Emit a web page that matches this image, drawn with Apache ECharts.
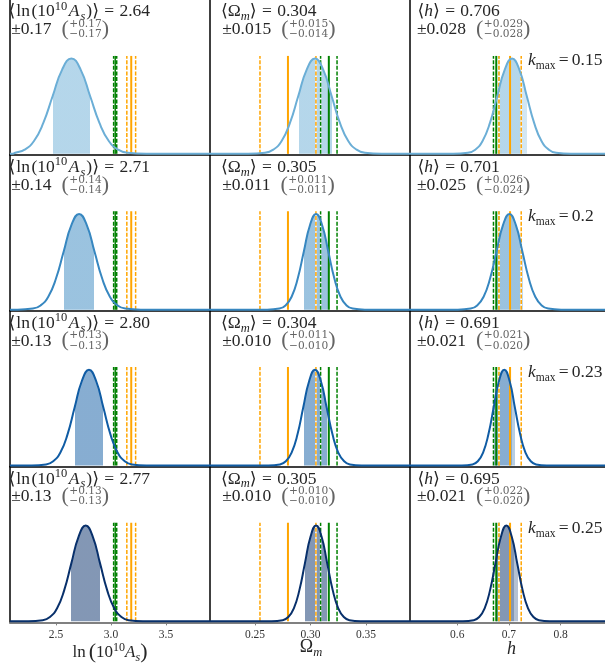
<!DOCTYPE html>
<html><head><meta charset="utf-8">
<script src="https://cdn.jsdelivr.net/npm/echarts@6/dist/echarts.min.js"></script>
<style>html,body{margin:0;padding:0;background:#fff}#c{width:605px;height:667px}</style>
</head><body><div id="c"></div>
<script>
// ================= DATA =================
const kmaxLabels = ['0.15', '0.2', '0.23', '0.25'];
// posterior summaries (rows = k_max)
const meanAs = ['2.64', '2.71', '2.80', '2.77'];
const sigAs  = ['0.17', '0.14', '0.13', '0.13'];
const upAs   = ['0.17', '0.14', '0.13', '0.13'];
const loAs   = ['0.17', '0.14', '0.13', '0.13'];
const meanOm = ['0.304', '0.305', '0.304', '0.305'];
const sigOm  = ['0.015', '0.011', '0.010', '0.010'];
const upOm   = ['0.015', '0.011', '0.011', '0.010'];
const loOm   = ['0.014', '0.011', '0.010', '0.010'];
const meanH  = ['0.706', '0.701', '0.691', '0.695'];
const sigH   = ['0.028', '0.025', '0.021', '0.021'];
const upH    = ['0.029', '0.026', '0.021', '0.022'];
const loH    = ['0.028', '0.024', '0.020', '0.020'];

// normalised posterior curve heights (shared shape)
const curveShape = [0, 0, 0.011, 0.044, 0.135, 0.325, 0.607, 0.882, 1, 0.882, 0.607, 0.325, 0.135, 0.044, 0.011, 0, 0];
// x positions of those heights, per row
const curveXAs = [
  [2.082, 2.10, 2.13, 2.215, 2.30, 2.385, 2.47, 2.555, 2.64, 2.725, 2.81, 2.895, 2.98, 3.065, 3.15, 3.32, 3.90],
  [2.082, 2.15, 2.29, 2.36, 2.43, 2.50, 2.57, 2.64, 2.71, 2.78, 2.85, 2.92, 2.99, 3.06, 3.13, 3.27, 3.90],
  [2.082, 2.28, 2.41, 2.475, 2.54, 2.605, 2.67, 2.735, 2.80, 2.865, 2.93, 2.995, 3.06, 3.125, 3.19, 3.32, 3.90],
  [2.082, 2.25, 2.38, 2.445, 2.51, 2.575, 2.64, 2.705, 2.77, 2.835, 2.90, 2.965, 3.03, 3.095, 3.16, 3.29, 3.90]
];
const curveXOm = [
  [0.2095, 0.244, 0.259, 0.2665, 0.274, 0.2815, 0.289, 0.2965, 0.304, 0.3115, 0.319, 0.3265, 0.334, 0.3415, 0.349, 0.364, 0.3896],
  [0.2095, 0.261, 0.272, 0.2775, 0.283, 0.2885, 0.294, 0.2995, 0.305, 0.3105, 0.316, 0.3215, 0.327, 0.3325, 0.338, 0.349, 0.3896],
  [0.2095, 0.262, 0.2725, 0.2778, 0.283, 0.2883, 0.2935, 0.2988, 0.304, 0.3093, 0.3145, 0.3198, 0.325, 0.3303, 0.3355, 0.346, 0.3896],
  [0.2095, 0.265, 0.275, 0.280, 0.285, 0.290, 0.295, 0.300, 0.305, 0.310, 0.315, 0.320, 0.325, 0.330, 0.335, 0.345, 0.3896]
];
const curveXH = [
  [0.5085, 0.592, 0.6205, 0.6348, 0.649, 0.6633, 0.6775, 0.6918, 0.706, 0.7203, 0.7345, 0.7488, 0.763, 0.7773, 0.7915, 0.820, 0.886],
  [0.5085, 0.601, 0.626, 0.6385, 0.651, 0.6635, 0.676, 0.6885, 0.701, 0.7135, 0.726, 0.7385, 0.751, 0.7635, 0.776, 0.801, 0.886],
  [0.5085, 0.609, 0.6295, 0.6398, 0.650, 0.6603, 0.6705, 0.6808, 0.691, 0.7013, 0.7115, 0.7218, 0.732, 0.7423, 0.7525, 0.773, 0.886],
  [0.5085, 0.611, 0.632, 0.6425, 0.653, 0.6635, 0.674, 0.6845, 0.695, 0.7055, 0.716, 0.7265, 0.737, 0.7475, 0.758, 0.779, 0.886]
];
// inner (darker) part of the h shading
const innerHiH = [0.7247, 0.7211, 0.7055, 0.7098];

// reference values (columns: lnAs, Om, h)
const greenCenter  = [3.038, 0.3165, 0.6755];
const greenErr     = [0.014, 0.0074, 0.0054];
const orangeCenter = [3.184, 0.2797, 0.7022];
const orangeErr    = [0.040, 0.0252, 0.0216];

// axes
const axisMin = [2.082, 0.2095, 0.5085];
const axisMax = [3.90, 0.3896, 0.886];
const tickAs = [2.5, 3.0, 3.5], tickLabAs = ['2.5', '3.0', '3.5'];
const tickOm = [0.25, 0.30, 0.35], tickLabOm = ['0.25', '0.30', '0.35'];
const tickH  = [0.6, 0.7, 0.8],   tickLabH  = ['0.6', '0.7', '0.8'];

// ================= STYLE / LAYOUT =================
const curveColor = ['#6baed6', '#3787c0', '#105ca4', '#08306b'];
const GREEN = '#008000', ORANGE = '#ffa500';
const MAIN = '#262626', GRAY = '#646464';
const FONT = '"Liberation Serif", "DejaVu Serif", serif';
const SMALLFONT = '"DejaVu Serif", serif';
const colLeft = [10, 210, 410], colW = 200;
const rowTop0 = -0.8, rowH = 155.8;
const Y_MIN = -0.012, Y_MAX = 1.615, LINE_TOP = 1.028;
const MID = 0.32;
const FS = 17.5;

const means = [meanAs, meanOm, meanH];
const sigs = [sigAs, sigOm, sigH];
const ups = [upAs, upOm, upH];
const los = [loAs, loOm, loH];
const curveX = [curveXAs, curveXOm, curveXH];
const ticks = [tickAs, tickOm, tickH];
const tickLabs = [tickLabAs, tickLabOm, tickLabH];

function rgba(hex, a) {
  const n = parseInt(hex.slice(1), 16);
  return 'rgba(' + (n >> 16) + ',' + ((n >> 8) & 255) + ',' + (n & 255) + ',' + a + ')';
}

const mctx = document.createElement('canvas').getContext('2d');
function fontOf(p) { return (p.it ? 'italic ' : '') + p.s + 'px ' + (p.f || FONT); }
function tw(t, p) { mctx.font = fontOf(p); return mctx.measureText(t).width; }

const graphics = [];
function txt(x, base, t, p, col) {
  return {type: 'text', x: x, y: base - MID * p.s, silent: true, z: 100,
    style: {text: t, font: fontOf(p), fill: col,
      align: 'left', verticalAlign: 'middle', textAlign: 'left', textVerticalAlign: 'middle'}};
}
function partW(p) { return p.stack ? Math.max.apply(null, p.stack.map(t => tw(t, p))) : tw(p.t, p); }
function placeRun(x, base, parts, center) {
  let total = 0;
  parts.forEach(p => { total += (p.pre || 0) + partW(p) + (p.post || 0); });
  let cx = center ? x - total / 2 : x;
  parts.forEach(p => {
    cx += p.pre || 0;
    const col = p.color || MAIN;
    if (p.stack) p.stack.forEach((t, k) => graphics.push(txt(cx, base + p.dys[k], t, p, col)));
    else graphics.push(txt(cx, base + (p.dy || 0), p.t, p, col));
    cx += partW(p) + (p.post || 0);
  });
}

const grids = [], xAxes = [], yAxes = [], series = [], visualMaps = [];
const line1X = [8.5, 221, 417.5], line2X = [11.2, 222.2, 417];

for (let r = 0; r < 4; r++) {
  const top = rowTop0 + r * rowH;
  for (let c = 0; c < 3; c++) {
    const idx = r * 3 + c;
    const bottom = r === 3;
    grids.push({left: colLeft[c], top: top, width: colW, height: rowH});
    xAxes.push({
      gridIndex: idx, type: 'value', min: axisMin[c], max: axisMax[c],
      axisLine: {show: true, onZero: false, lineStyle: {color: bottom ? '#808080' : '#000', width: bottom ? 2 : 1.5}},
      axisTick: {show: bottom, customValues: ticks[c], length: 3, lineStyle: {color: '#808080', width: 1}},
      axisLabel: {show: bottom, customValues: ticks[c], margin: 7, fontFamily: FONT, fontSize: 11.5, color: '#333',
        formatter: v => { let b = 0; ticks[c].forEach((t, i) => { if (Math.abs(t - v) < Math.abs(ticks[c][b] - v)) b = i; }); return tickLabs[c][b]; }},
      splitLine: {show: false}
    });
    yAxes.push({
      gridIndex: idx, type: 'value', min: Y_MIN, max: Y_MAX,
      axisLine: {show: true, onZero: false, lineStyle: {color: '#000', width: 1.5}},
      axisTick: {show: false}, axisLabel: {show: false}, splitLine: {show: false}
    });
    const pts = curveX[c][r].map((x, i) => [x, curveShape[i]]);
    const mu = parseFloat(means[c][r]);
    const lo = mu - parseFloat(los[c][r]);
    const hi = mu + parseFloat(ups[c][r]);
    const inner = c === 2 ? innerHiH[r] : hi;
    // shaded 68% interval
    const shadeIdx = series.length;
    series.push({type: 'line', xAxisIndex: idx, yAxisIndex: idx, data: pts, smooth: true, symbol: 'none',
      lineStyle: {width: 0, opacity: 0}, areaStyle: {opacity: 1}, z: 2, silent: true, clip: false});
    const pieces = [{gte: lo, lt: inner, color: rgba(curveColor[r], 0.5)}];
    if (inner < hi) pieces.push({gte: inner, lte: hi, color: rgba(curveColor[r], 0.3)});
    visualMaps.push({type: 'piecewise', show: false, seriesIndex: shadeIdx, dimension: 0, pieces: pieces,
      outOfRange: {color: 'rgba(255,255,255,0)'}});
    // reference lines
    const vline = (x, color, dashed) => {
      const d = [[x, 0], [x, LINE_TOP]];
      if (dashed) series.push({type: 'line', xAxisIndex: idx, yAxisIndex: idx, data: d, symbol: 'none',
        lineStyle: {color: '#fff', width: 1.5}, z: 3, silent: true, clip: false});
      series.push({type: 'line', xAxisIndex: idx, yAxisIndex: idx, data: d, symbol: 'none',
        lineStyle: {color: color, width: dashed ? 1.5 : 2, type: dashed ? [4, 1.6] : 'solid'}, z: 3, silent: true, clip: false});
    };
    vline(greenCenter[c], GREEN, false);
    vline(greenCenter[c] - greenErr[c], GREEN, true);
    vline(greenCenter[c] + greenErr[c], GREEN, true);
    vline(orangeCenter[c], ORANGE, false);
    vline(orangeCenter[c] - orangeErr[c], ORANGE, true);
    vline(orangeCenter[c] + orangeErr[c], ORANGE, true);
    // curve
    series.push({type: 'line', xAxisIndex: idx, yAxisIndex: idx, data: pts, smooth: true, symbol: 'none',
      lineStyle: {color: curveColor[r], width: 2}, z: 4, silent: true, clip: false});

    // annotation text
    const b1 = top + 18.1, b2 = top + 35.8;
    let l1;
    if (c === 0) l1 = [{t: '⟨', s: FS, post: 1}, {t: 'ln', s: FS, post: 1.5}, {t: '(10', s: FS}, {t: '10', s: 12.5, dy: -7},
      {t: 'A', s: FS, it: 1, pre: 1.5, post: 1}, {t: 's', s: 12.5, it: 1, dy: 3.5},
      {t: ')', s: FS, pre: 1}, {t: '⟩', s: FS}, {t: '=', s: FS, pre: 5.3, post: 5.3}, {t: means[c][r], s: FS}];
    else if (c === 1) l1 = [{t: '⟨Ω', s: FS}, {t: 'm', s: 12.5, it: 1, dy: 3.5}, {t: '⟩', s: FS},
      {t: '=', s: FS, pre: 5.3, post: 5.3}, {t: means[c][r], s: FS}];
    else l1 = [{t: '⟨', s: FS}, {t: 'h', s: FS, it: 1}, {t: '⟩', s: FS},
      {t: '=', s: FS, pre: 5.3, post: 5.3}, {t: means[c][r], s: FS}];
    placeRun(line1X[c], b1, l1, false);
    placeRun(line2X[c], b2, [
      {t: '±' + sigs[c][r], s: FS},
      {t: '(', s: 22, dy: 1, pre: 10, color: GRAY},
      {stack: ['+' + ups[c][r], '−' + los[c][r]], s: 10.6, f: SMALLFONT, dys: [-7.6, 2.6], color: GRAY, pre: 0.5},
      {t: ')', s: 22, dy: 1, color: GRAY}
    ], false);
  }
  // k_max label
  placeRun(528, top + 67.3, [{t: 'k', s: FS, it: 1}, {t: 'max', s: 11.5, dy: 3.5},
    {t: '=', s: FS, pre: 3.2, post: 3.2}, {t: kmaxLabels[r], s: FS}], false);
}

// axis titles
placeRun(110, 658.3, [{t: 'ln', s: 17}, {t: '(', s: 22, dy: 0.5, pre: 3}, {t: '10', s: 17}, {t: '10', s: 12, dy: -7},
  {t: 'A', s: 17, it: 1}, {t: 's', s: 12, it: 1, dy: 3.5}, {t: ')', s: 22, dy: 0.5}], true);
placeRun(311, 653.4, [{t: 'Ω', s: 18}, {t: 'm', s: 12.5, it: 1, dy: 3.5}], true);
placeRun(511.5, 655, [{t: 'h', s: 18, it: 1}], true);

const chart = echarts.init(document.getElementById('c'), null, {renderer: 'canvas', width: 605, height: 667});
chart.setOption({
  animation: false,
  backgroundColor: '#fff',
  grid: grids, xAxis: xAxes, yAxis: yAxes,
  visualMap: visualMaps,
  series: series,
  graphic: {elements: graphics}
});
</script>
</body></html>
